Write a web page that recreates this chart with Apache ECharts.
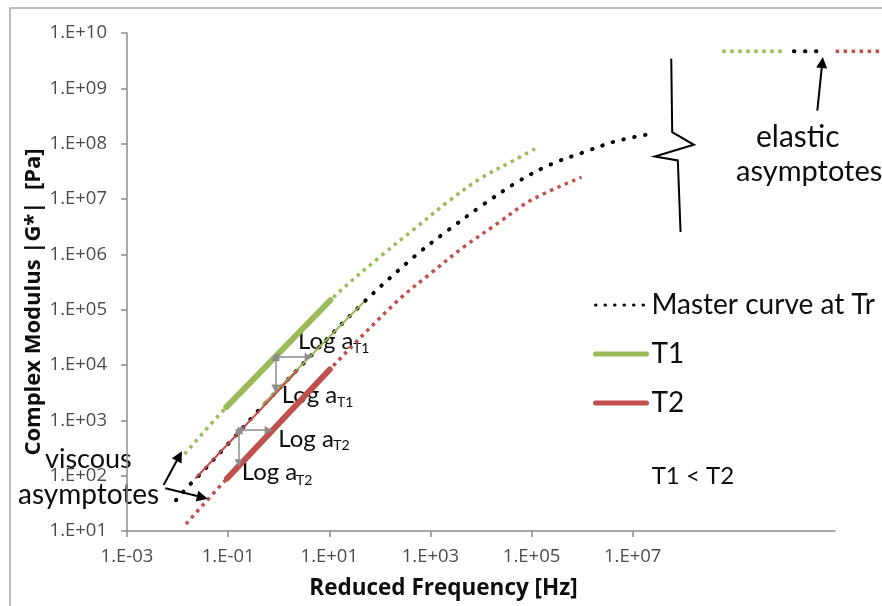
<!DOCTYPE html>
<html>
<head>
<meta charset="utf-8">
<script src="https://cdn.jsdelivr.net/npm/echarts@6/dist/echarts.min.js"></script>
<style>
  html, body { margin: 0; padding: 0; background: #ffffff; }
  #chart { width: 882px; height: 606px; }
</style>
</head>
<body>
<div id="chart"></div>
<script>
// Axis ticks (reduced frequency in Hz, modulus in Pa)
const freqTicks = [1e-3, 1e-1, 1e1, 1e3, 1e5, 1e7];
const modTicks = [1e1, 1e2, 1e3, 1e4, 1e5, 1e6, 1e7, 1e8, 1e9, 1e10];

// Master curve at the reference temperature Tr
const masterFreq = [0.0093, 0.0166, 0.0217, 0.111, 0.469, 3.64, 48, 468, 2140, 11300, 51900, 236000, 1.08e6, 4.9e6, 2.7e7];
const masterMod  = [36, 66, 83, 416, 1770, 12500, 136000, 893000, 2.65e6, 8.0e6, 2.02e7, 4.2e7, 7.0e7, 1.12e8, 1.55e8];

// Full curve at T1 (extrapolated part dotted)
const t1CurveFreq = [0.0138, 0.092, 10.5, 103, 468, 2140, 9750, 44500, 129000];
const t1CurveMod  = [245, 1730, 148000, 920000, 2.82e6, 8.7e6, 2.35e7, 4.98e7, 8.5e7];

// Full curve at T2
const t2CurveFreq = [0.0147, 0.095, 10.2, 219, 1000, 4560, 20900, 95000, 970000];
const t2CurveMod  = [13.4, 89, 8300, 142000, 450000, 1.36e6, 3.58e6, 9.4e6, 2.48e7];

// Measured windows at T1 and T2, and the same data shifted onto the master curve
const t1Freq = [0.092, 10.5];
const t1Mod  = [1730, 148000];
const t1ShiftFreq = [0.469, 48];
const t1ShiftMod  = [1880, 138000];
const t2Freq = [0.095, 10.2];
const t2Mod  = [89, 8300];
const t2ShiftFreq = [0.0224, 2.45];
const t2ShiftMod  = [89, 8300];

// Elastic (glassy) asymptotes
const elasticMod = [4.68e9, 4.68e9];
const elasticT1Freq = [5.9e8, 9.06e9];
const elasticMasterFreq = [1.54e10, 6.5e10];
const elasticT2Freq = [1.03e11, 8.7e11];

// Axis-break zigzag
const breakFreq = [5.78e7, 6.04e7, 1.62e8, 2.73e7, 7.8e7, 8.83e7];
const breakMod  = [3.41e9, 1.61e8, 9.55e7, 5.87e7, 4.98e7, 2.53e6];

// Shift-factor arrows (horizontal: frequency shift, vertical: modulus shift)
const shiftArrows = [
  [[0.859, 14000], [3.92, 14000]],
  [[0.859, 14000], [0.859, 3770]],
  [[0.161, 665], [0.632, 665]],
  [[0.161, 665], [0.161, 167]]
];
// Pointer arrows to the asymptotes
const pointerArrows = [
  [[0.0053, 67.6], [0.01084, 226]],
  [[0.00573, 59], [0.0309, 40.6]],
  [[4.47e10, 3.97e8], [5.6e10, 2.92e9]]
];

const GREEN = '#9bbb59';
const RED = '#c0504d';
const FONT = 'Lato';
const TITLE_FONT = 'Open Sans';
const TICK_FONT = 'Open Sans';
const TICK_SIZE = 18.5;

// plot area
const GRID = { left: 127, top: 33, right: 47, bottom: 75 };
const X_MIN_EXP = -3, X_MAX_EXP = 11;
const CHART_W = 882;
// an overlay grid reaching the right edge, on the same frequency scale
const pxPerDecade = (CHART_W - GRID.left - GRID.right) / (X_MAX_EXP - X_MIN_EXP);
const overlayMax = Math.pow(10, X_MAX_EXP + GRID.right / pxPerDecade);
const xMin = Math.pow(10, X_MIN_EXP);
const yMin = modTicks[0];

const zip = (xs, ys) => xs.map((x, i) => [x, ys[i]]);
const sci = v => {
  const e = Math.round(Math.log10(v));
  return '1.E' + (e < 0 ? '-' : '+') + String(Math.abs(e)).padStart(2, '0');
};

const dotRound = { width: 4, type: [0.5, 10.5], cap: 'round' };
const dotSquare = { width: 3.5, type: [3.5, 4.5], cap: 'butt' };

function lineSeries(name, data, color, lineStyle, extra) {
  return Object.assign({
    name: name,
    type: 'line',
    data: data,
    symbol: 'none',
    showSymbol: false,
    smooth: 0.35,
    silent: true,
    animation: false,
    itemStyle: { color: color },
    lineStyle: Object.assign({ color: color }, lineStyle)
  }, extra || {});
}

// tick labels placed on the axes through the same scales
function tickLabelSeries(name, data, position, distance, pick) {
  return {
    name: name,
    type: 'scatter',
    data: data,
    symbol: 'circle',
    symbolSize: 0,
    silent: true,
    clip: false,
    animation: false,
    itemStyle: { color: 'rgba(0,0,0,0)' },
    label: {
      show: true,
      position: position,
      distance: distance,
      formatter: p => sci(p.value[pick]),
      fontFamily: TICK_FONT,
      fontSize: TICK_SIZE,
      color: '#1a1a1a'
    },
    labelLayout: { hideOverlap: false }
  };
}

function txt(x, y, text, size, opts) {
  opts = opts || {};
  return {
    type: 'text',
    x: x, y: y,
    rotation: opts.rotation || 0,
    silent: true,
    style: {
      text: text,
      font: (opts.bold ? 'bold ' : '') + size + 'px ' + (opts.family || FONT),
      fill: opts.color || '#0d0d0d',
      align: opts.align || 'left',
      textAlign: opts.align || 'left',
      verticalAlign: 'middle',
      textVerticalAlign: 'middle'
    }
  };
}

const hiddenIcon = { color: 'rgba(0,0,0,0)', borderWidth: 0, opacity: 0 };

const chart = echarts.init(document.getElementById('chart'), null, { renderer: 'canvas' });

chart.setOption({
  animation: false,
  backgroundColor: '#ffffff',
  grid: [
    Object.assign({ containLabel: false }, GRID),
    { left: GRID.left, top: GRID.top, right: 0, bottom: GRID.bottom, containLabel: false }
  ],
  xAxis: [{
    type: 'log',
    logBase: 10,
    gridIndex: 0,
    min: xMin,
    max: Math.pow(10, X_MAX_EXP),
    axisLine: { show: true, lineStyle: { color: '#8c8c8c', width: 1.5 } },
    axisTick: { show: true, length: 6, inside: false, customValues: freqTicks, lineStyle: { color: '#8c8c8c', width: 1.5 } },
    axisLabel: { show: false },
    splitLine: { show: false },
    minorTick: { show: false }
  }, {
    type: 'log',
    logBase: 10,
    gridIndex: 1,
    show: false,
    min: xMin,
    max: overlayMax,
    splitLine: { show: false }
  }],
  yAxis: [{
    type: 'log',
    logBase: 10,
    gridIndex: 0,
    min: yMin,
    max: modTicks[modTicks.length - 1],
    axisLine: { show: true, lineStyle: { color: '#8c8c8c', width: 1.5 } },
    axisTick: { show: true, length: 6, inside: false, customValues: modTicks, lineStyle: { color: '#8c8c8c', width: 1.5 } },
    axisLabel: { show: false },
    splitLine: { show: false },
    minorTick: { show: false }
  }, {
    type: 'log',
    logBase: 10,
    gridIndex: 1,
    show: false,
    min: yMin,
    max: modTicks[modTicks.length - 1],
    splitLine: { show: false }
  }],
  legend: {
    orient: 'vertical',
    left: 593,
    top: 290,
    padding: 0,
    itemGap: 19,
    itemWidth: 51,
    itemHeight: 14,
    selectedMode: false,
    textStyle: { fontFamily: FONT, fontSize: 28, color: '#0d0d0d', lineHeight: 30 },
    data: [
      { name: 'Master curve at Tr', itemStyle: hiddenIcon, lineStyle: { color: '#000', width: 3, type: [0.5, 9], cap: 'round' } },
      { name: 'T1', itemStyle: hiddenIcon, lineStyle: { color: GREEN, width: 5, type: 'solid', cap: 'round' } },
      { name: 'T2', itemStyle: hiddenIcon, lineStyle: { color: RED, width: 5, type: 'solid', cap: 'round' } }
    ]
  },
  graphic: [
    { type: 'rect', shape: { x: 10, y: 8, width: 900, height: 700 }, style: { fill: 'none', stroke: '#a6a6a6', lineWidth: 1.5 }, silent: true },
    txt(34, 302, 'Complex Modulus |G*|  [Pa]', 22, { bold: true, rotation: Math.PI / 2, align: 'center', family: TITLE_FONT }),
    txt(443.5, 589, 'Reduced Frequency [Hz]', 22.5, { bold: true, align: 'center', family: TITLE_FONT }),
    txt(298, 341.7, 'Log a', 24), txt(353, 348.3, 'T1', 14),
    txt(281.7, 395.3, 'Log a', 24), txt(337, 402.3, 'T1', 14),
    txt(278.3, 438.8, 'Log a', 24), txt(333.3, 445.8, 'T2', 14),
    txt(241.7, 472.5, 'Log a', 24), txt(296, 480, 'T2', 14),
    txt(45, 459, 'viscous', 27),
    txt(18, 495, 'asymptotes', 28),
    txt(756, 137, 'elastic', 30),
    txt(736, 172, 'asymptotes', 29),
    txt(651.7, 476.7, 'T1 < T2', 24)
  ],
  series: [
    lineSeries('T1 curve', zip(t1CurveFreq, t1CurveMod), GREEN, dotSquare),
    lineSeries('T2 curve', zip(t2CurveFreq, t2CurveMod), RED, dotSquare),
    lineSeries('Master curve at Tr', zip(masterFreq, masterMod), '#000', dotRound, { z: 4 }),
    lineSeries('T1', zip(t1Freq, t1Mod), GREEN, { width: 6, cap: 'round' }, { smooth: false, z: 5 }),
    lineSeries('T2', zip(t2Freq, t2Mod), RED, { width: 6, cap: 'round' }, { smooth: false, z: 5 }),
    lineSeries('T1 shifted', zip(t1ShiftFreq, t1ShiftMod), GREEN, { width: 2 }, { smooth: false, z: 5 }),
    lineSeries('T2 shifted', zip(t2ShiftFreq, t2ShiftMod), RED, { width: 2 }, { smooth: false, z: 5 }),
    lineSeries('T1 elastic', zip(elasticT1Freq, elasticMod), GREEN, dotSquare, { smooth: false, xAxisIndex: 1, yAxisIndex: 1, clip: false }),
    lineSeries('Tr elastic', zip(elasticMasterFreq, elasticMod), '#000', dotRound, { smooth: false, xAxisIndex: 1, yAxisIndex: 1, clip: false }),
    lineSeries('T2 elastic', zip(elasticT2Freq, elasticMod), RED, dotSquare, { smooth: false, xAxisIndex: 1, yAxisIndex: 1, clip: false }),
    lineSeries('break', zip(breakFreq, breakMod), '#000', { width: 2, join: 'miter' }, { smooth: false, clip: false }),
    tickLabelSeries('freq tick labels', freqTicks.map(v => [v, yMin]), 'bottom', 16, 0),
    tickLabelSeries('modulus tick labels', modTicks.map(v => [xMin, v]), 'left', 20, 1),
    {
      name: 'shift arrows',
      type: 'lines',
      coordinateSystem: 'cartesian2d',
      silent: true,
      z: 6,
      symbol: ['triangle', 'triangle'],
      symbolSize: 8,
      lineStyle: { color: '#8c8c8c', width: 1.5, opacity: 1, curveness: 0 },
      data: shiftArrows.map(c => ({ coords: c }))
    },
    {
      name: 'pointer arrows',
      type: 'lines',
      coordinateSystem: 'cartesian2d',
      silent: true,
      z: 6,
      symbol: ['none', 'triangle'],
      symbolSize: 11,
      lineStyle: { color: '#000', width: 2, opacity: 1, curveness: 0 },
      data: pointerArrows.map(c => ({ coords: c }))
    }
  ]
});
</script>
</body>
</html>
